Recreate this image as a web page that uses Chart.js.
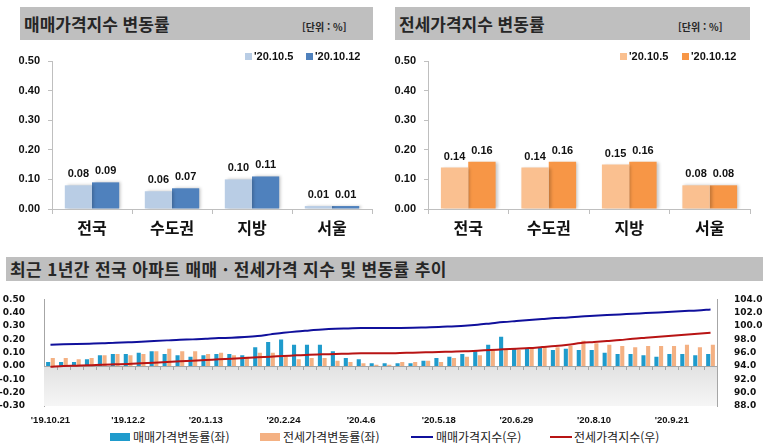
<!DOCTYPE html>
<html lang="ko">
<head>
<meta charset="utf-8">
<script src="https://cdn.jsdelivr.net/npm/chart.js@4.4.0/dist/chart.umd.min.js"></script>
<style>
  body { margin: 0; width: 767px; height: 448px; background: #fff; position: relative; overflow: hidden; font-family: "Noto Sans CJK KR", sans-serif; }
  canvas { position: absolute; }
  .hdr { position: absolute; background: #bfbfbf; }
  .hdr .t { position: absolute; font-weight: 700; color: #262626; white-space: nowrap; }
  .unit { position: absolute; font-size: 10px; font-weight: 700; color: #262626; white-space: nowrap; }
  .lg { position: absolute; font: bold 11px "Liberation Sans", sans-serif; color: #111; white-space: nowrap; }
  .sw { position: absolute; }
  .blg { position: absolute; font-size: 12px; color: #222; white-space: nowrap; line-height: 14px; }
</style>
</head>
<body>
<canvas id="saleChart" width="380" height="250" style="left:0;top:0"></canvas>
<canvas id="jeonseChart" width="382" height="250" style="left:376px;top:0"></canvas>
<canvas id="trendChart" width="767" height="145" style="left:0;top:283px"></canvas>

<div class="hdr" style="left:20px;top:7px;width:353px;height:33px">
  <div class="t" style="left:4px;top:4px;font-size:17px">매매가격지수 변동률</div>
  <div class="unit" style="left:282px;top:12px">[단위 : %]</div>
</div>
<div class="hdr" style="left:395px;top:7px;width:355px;height:33px">
  <div class="t" style="left:4px;top:4px;font-size:17px">전세가격지수 변동률</div>
  <div class="unit" style="left:283px;top:12px">[단위 : %]</div>
</div>
<div class="hdr" style="left:6px;top:257px;width:757px;height:24px">
  <div class="t" style="left:4px;top:0px;font-size:17px;letter-spacing:0.4px;line-height:24px">최근 1년간 전국 아파트 매매 · 전세가격 지수 및 변동률 추이</div>
</div>

<div class="sw" style="left:245px;top:53px;width:7px;height:7px;background:#b9cde5"></div>
<div class="lg" style="left:254px;top:50px">'20.10.5</div>
<div class="sw" style="left:306px;top:53px;width:7px;height:7px;background:#4f81bd"></div>
<div class="lg" style="left:315px;top:50px">'20.10.12</div>
<div class="sw" style="left:620px;top:53px;width:7px;height:7px;background:#fac090"></div>
<div class="lg" style="left:629px;top:50px">'20.10.5</div>
<div class="sw" style="left:682px;top:53px;width:7px;height:7px;background:#f79646"></div>
<div class="lg" style="left:691px;top:50px">'20.10.12</div>

<div class="sw" style="left:110px;top:433px;width:20px;height:8px;background:#1f9bcc"></div>
<div class="blg" style="left:133px;top:430px">매매가격변동률(좌)</div>
<div class="sw" style="left:260px;top:433px;width:20px;height:8px;background:#f4b183"></div>
<div class="blg" style="left:283px;top:430px">전세가격변동률(좌)</div>
<div class="sw" style="left:411px;top:436px;width:22px;height:2px;background:#10109c"></div>
<div class="blg" style="left:436px;top:430px">매매가격지수(우)</div>
<div class="sw" style="left:550px;top:436px;width:22px;height:2px;background:#b81414"></div>
<div class="blg" style="left:574px;top:430px">전세가격지수(우)</div>

<script>
// weekly change by region, %
const regions = ['전국', '수도권', '지방', '서울'];
const saleRate1005 = [0.08, 0.06, 0.10, 0.01];
const saleRate1012 = [0.09, 0.07, 0.11, 0.01];
const jeonseRate1005 = [0.14, 0.14, 0.15, 0.08];
const jeonseRate1012 = [0.16, 0.16, 0.16, 0.08];

// last 52 weeks, nationwide apartments
const trendDates = ["'19.10.21", "'19.10.28", "'19.11.4", "'19.11.11", "'19.11.18", "'19.11.25",
  "'19.12.2", "'19.12.9", "'19.12.16", "'19.12.23", "'19.12.30", "'20.1.6",
  "'20.1.13", "'20.1.20", "'20.1.27", "'20.2.3", "'20.2.10", "'20.2.17",
  "'20.2.24", "'20.3.2", "'20.3.9", "'20.3.16", "'20.3.23", "'20.3.30",
  "'20.4.6", "'20.4.13", "'20.4.20", "'20.4.27", "'20.5.4", "'20.5.11",
  "'20.5.18", "'20.5.25", "'20.6.1", "'20.6.8", "'20.6.15", "'20.6.22",
  "'20.6.29", "'20.7.6", "'20.7.13", "'20.7.20", "'20.7.27", "'20.8.3",
  "'20.8.10", "'20.8.17", "'20.8.24", "'20.8.31", "'20.9.7", "'20.9.14",
  "'20.9.21", "'20.9.28", "'20.10.5", "'20.10.12"];
const saleRateTrend = [0.03, 0.03, 0.03, 0.05, 0.08, 0.09, 0.09, 0.10, 0.11, 0.09, 0.08, 0.07,
  0.08, 0.09, 0.09, 0.08, 0.14, 0.18, 0.20, 0.16, 0.16, 0.16, 0.11, 0.06,
  0.05, 0.02, 0.02, 0.02, 0.02, 0.04, 0.06, 0.07, 0.09, 0.11, 0.16, 0.22,
  0.13, 0.13, 0.14, 0.12, 0.13, 0.12, 0.12, 0.10, 0.09, 0.09, 0.08, 0.07,
  0.09, 0.09, 0.08, 0.09];
const jeonseRateTrend = [0.06, 0.06, 0.05, 0.06, 0.08, 0.09, 0.08, 0.09, 0.11, 0.13, 0.11, 0.11,
  0.09, 0.10, 0.08, 0.07, 0.10, 0.10, 0.07, 0.05, 0.06, 0.06, 0.04, 0.03,
  0.02, 0.01, 0.01, 0.03, 0.03, 0.04, 0.03, 0.06, 0.07, 0.08, 0.12, 0.12,
  0.12, 0.13, 0.14, 0.14, 0.15, 0.19, 0.17, 0.16, 0.15, 0.14, 0.15, 0.15,
  0.15, 0.16, 0.14, 0.16];
const saleIndexTrend = [97.2, 97.25, 97.3, 97.35, 97.4, 97.5, 97.55, 97.65, 97.75, 97.85, 97.95, 98.0,
  98.1, 98.2, 98.25, 98.35, 98.5, 98.75, 99.0, 99.2, 99.35, 99.5, 99.6, 99.65,
  99.7, 99.7, 99.7, 99.72, 99.75, 99.8, 99.85, 99.95, 100.05, 100.2, 100.4, 100.6,
  100.75, 100.9, 101.05, 101.2, 101.3, 101.45, 101.55, 101.65, 101.75, 101.85, 101.95, 102.05,
  102.15, 102.25, 102.35, 102.5];
const jeonseIndexTrend = [93.9, 94.0, 94.05, 94.1, 94.2, 94.25, 94.3, 94.4, 94.5, 94.6, 94.7, 94.8,
  94.9, 95.0, 95.1, 95.2, 95.3, 95.4, 95.5, 95.6, 95.7, 95.75, 95.8, 95.85,
  95.9, 95.9, 95.9, 95.95, 96.0, 96.05, 96.1, 96.15, 96.2, 96.3, 96.4, 96.5,
  96.6, 96.7, 96.85, 97.0, 97.2, 97.45, 97.6, 97.75, 97.9, 98.1, 98.25, 98.4,
  98.55, 98.7, 98.85, 99.0];

Chart.defaults.font.family = '"Liberation Sans", sans-serif';
Chart.defaults.color = '#111';
Chart.defaults.animation = false;

const AXIS_GRAY = '#bfbfbf';

// value labels over bars + soft shadow like the original
const barLabels = {
  id: 'barLabels',
  beforeDatasetsDraw(chart) {
    const ctx = chart.ctx;
    ctx.save();
    ctx.shadowColor = 'rgba(0,0,0,0.22)';
    ctx.shadowOffsetX = 2;
    ctx.shadowOffsetY = 0;
    ctx.shadowBlur = 3;
  },
  afterDatasetsDraw(chart) {
    const ctx = chart.ctx;
    ctx.restore();
    ctx.save();
    ctx.font = 'bold 11px "Liberation Sans"';
    ctx.fillStyle = '#111';
    ctx.textAlign = 'center';
    ctx.textBaseline = 'alphabetic';
    chart.data.datasets.forEach((ds, di) => {
      chart.getDatasetMeta(di).data.forEach((bar, i) => {
        ctx.fillText(ds.data[i].toFixed(2), bar.x, bar.y - 8);
      });
    });
    ctx.restore();
  }
};

function makeRateChart(id, light, dark, d1, d2) {
  return new Chart(document.getElementById(id), {
    type: 'bar',
    data: {
      labels: regions,
      datasets: [
        { label: "'20.10.5", data: d1, backgroundColor: light },
        { label: "'20.10.12", data: d2, backgroundColor: dark }
      ]
    },
    options: {
      responsive: false,
      layout: { padding: { top: 61, right: 8, left: 0, bottom: 0 } },
      datasets: { bar: { categoryPercentage: 0.68, barPercentage: 1.0 } },
      plugins: { legend: { display: false }, tooltip: { enabled: false } },
      scales: {
        x: {
          grid: { drawOnChartArea: false, drawTicks: true, tickLength: 5, color: AXIS_GRAY },
          border: { color: AXIS_GRAY },
          ticks: { font: { family: '"Noto Sans CJK KR"', size: 16, weight: 'bold' }, color: '#111', padding: 4 },
          afterFit(scale) { scale.height = 41; }
        },
        y: {
          min: 0, max: 0.5,
          grid: { drawOnChartArea: false, drawTicks: true, tickLength: 4, color: AXIS_GRAY },
          border: { color: AXIS_GRAY },
          ticks: { stepSize: 0.1, padding: 8, font: { size: 11, weight: 'bold' }, callback: v => v.toFixed(2) },
          afterFit(scale) { scale.width = 52; }
        }
      }
    },
    plugins: [barLabels]
  });
}

makeRateChart('saleChart', '#b9cde5', '#4f81bd', saleRate1005, saleRate1012);
makeRateChart('jeonseChart', '#fac090', '#f79646', jeonseRate1005, jeonseRate1012);

// gray band below zero, zero line with small ticks
const zeroBand = {
  id: 'zeroBand',
  beforeDatasetsDraw(chart) {
    const { ctx, chartArea: a, scales } = chart;
    const y0 = scales.y.getPixelForValue(0);
    const g = ctx.createLinearGradient(0, y0, 0, a.bottom);
    g.addColorStop(0, '#e2e2e2');
    g.addColorStop(1, '#f6f6f6');
    ctx.save();
    ctx.fillStyle = g;
    ctx.fillRect(a.left, y0, a.right - a.left, a.bottom - y0);
    ctx.strokeStyle = '#a6a6a6';
    ctx.lineWidth = 1;
    ctx.beginPath();
    ctx.moveTo(a.left, y0 + 0.5);
    ctx.lineTo(a.right, y0 + 0.5);
    const n = chart.data.labels.length;
    const step = (a.right - a.left) / n;
    for (let i = 1; i < n; i++) {
      const x = Math.round(a.left + step * i) + 0.5;
      ctx.moveTo(x, y0);
      ctx.lineTo(x, y0 + 4);
    }
    ctx.stroke();
    ctx.restore();
  }
};

new Chart(document.getElementById('trendChart'), {
  data: {
    labels: trendDates,
    datasets: [
      { type: 'line', label: '매매가격지수(우)', data: saleIndexTrend, yAxisID: 'y1', borderColor: '#10109c', borderWidth: 2, pointRadius: 0, cubicInterpolationMode: 'monotone', order: 0 },
      { type: 'line', label: '전세가격지수(우)', data: jeonseIndexTrend, yAxisID: 'y1', borderColor: '#b81414', borderWidth: 2, pointRadius: 0, cubicInterpolationMode: 'monotone', order: 0 },
      { type: 'bar', label: '매매가격변동률(좌)', data: saleRateTrend, yAxisID: 'y', backgroundColor: '#1f9bcc', order: 1 },
      { type: 'bar', label: '전세가격변동률(좌)', data: jeonseRateTrend, yAxisID: 'y', backgroundColor: '#f4b183', order: 1 }
    ]
  },
  options: {
    responsive: false,
    layout: { padding: { top: 9, right: 0, left: 0, bottom: 0 } },
    datasets: { bar: { categoryPercentage: 0.72, barPercentage: 0.88 } },
    plugins: { legend: { display: false }, tooltip: { enabled: false } },
    scales: {
      x: {
        offset: true,
        grid: { display: false },
        border: { display: false },
        ticks: {
          autoSkip: false, maxRotation: 0, padding: 1,
          font: { size: 9.5, weight: 'bold' }, color: '#111',
          callback: (v, i) => (i % 6 === 0 ? trendDates[i] : '')
        },
        afterFit(scale) { scale.height = 22; }
      },
      y: {
        position: 'left',
        min: -0.3, max: 0.5,
        grid: { display: false },
        border: { color: '#a6a6a6' },
        ticks: { autoSkip: false, stepSize: 0.1, padding: 11, font: { family: '"DejaVu Sans"', size: 9, weight: 'bold' }, color: '#111', callback: v => v.toFixed(2) },
        afterFit(scale) { scale.width = 44; }
      },
      y1: {
        position: 'right',
        min: 88, max: 104,
        grid: { display: false },
        border: { color: '#a6a6a6' },
        ticks: { autoSkip: false, stepSize: 2, padding: 9, font: { family: '"DejaVu Sans"', size: 9, weight: 'bold' }, color: '#111', callback: v => v.toFixed(1) },
        afterFit(scale) { scale.width = 50; }
      }
    }
  },
  plugins: [zeroBand]
});
</script>
</body>
</html>
